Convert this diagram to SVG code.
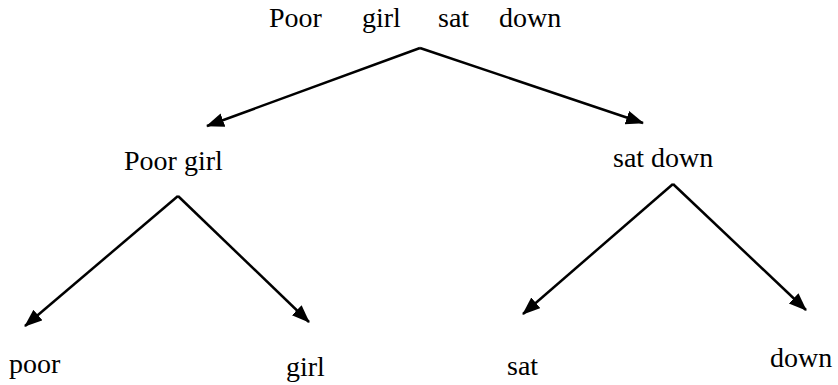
<svg xmlns="http://www.w3.org/2000/svg" width="838" height="385" viewBox="0 0 838 385">
<style>
.c{stroke:#000;stroke-width:2.5;fill:none;marker-end:url(#ah)}
</style>
<defs>
<marker id="ah" markerUnits="userSpaceOnUse" markerWidth="20" markerHeight="16" refX="17" refY="7" orient="auto">
<path d="M0,0 L18,7 L0,14 Z" fill="#000"/>
</marker>
</defs>
<rect width="838" height="385" fill="#fff"/>
<g id="connectors">
<line class="c" x1="420" y1="48" x2="207" y2="126"/>
<line class="c" x1="420" y1="48" x2="643" y2="123"/>
<line class="c" x1="178" y1="196" x2="25" y2="326"/>
<line class="c" x1="178" y1="196" x2="309" y2="322"/>
<line class="c" x1="673" y1="184" x2="523" y2="314"/>
<line class="c" x1="673" y1="184" x2="806" y2="310"/>
</g>
<g id="nodes" font-family="Liberation Serif" font-size="28" fill="#000">
<g id="root"><text y="27"><tspan x="269">Poor</tspan><tspan x="362">girl</tspan><tspan x="438">sat</tspan><tspan x="499">down</tspan></text></g>
<g id="poor-girl"><text x="124" y="170">Poor girl</text></g>
<g id="sat-down"><text x="613" y="167">sat down</text></g>
<g id="poor"><text x="9" y="373">poor</text></g>
<g id="girl"><text x="286" y="376">girl</text></g>
<g id="sat"><text x="507" y="375">sat</text></g>
<g id="down"><text x="770" y="367">down</text></g>
</g>
</svg>
